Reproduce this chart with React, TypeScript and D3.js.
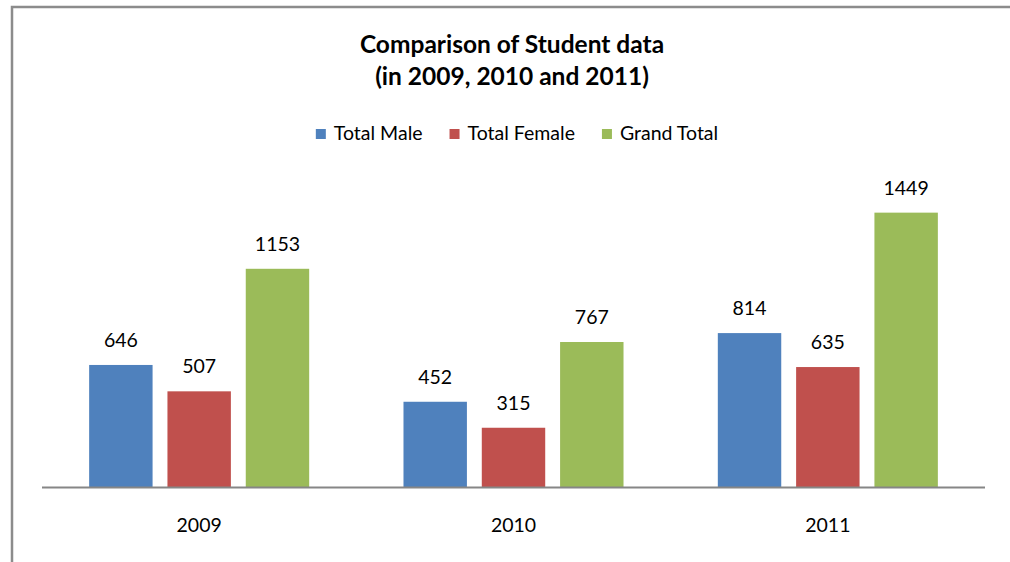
import { useEffect, useRef } from 'react';
import * as d3 from 'd3';

const years = ['2009', '2010', '2011'];
const seriesNames = ['Total Male', 'Total Female', 'Grand Total'];
const totalMale = [646, 452, 814];
const totalFemale = [507, 315, 635];
const grandTotal = [1153, 767, 1449];

const colors = ['#4F81BD', '#C0504D', '#9BBB59'];
const FONT = 'Lato, Calibri, "Open Sans", sans-serif';

const W = 1010;
const H = 562;
const margin = { left: 42, right: 25, top: 184, bottom: 74.5 };

const App = () => {
  const ref = useRef<SVGSVGElement>(null);

  useEffect(() => {
    const svg = d3.select(ref.current);
    svg.selectAll('*').remove();

    const values = [totalMale, totalFemale, grandTotal];
    const rows = years.map((y, i) => ({
      year: y,
      vals: values.map((v, s) => ({ name: seriesNames[s], value: v[i], s })),
    }));

    // chart border (right/bottom run off the page)
    svg.append('rect')
      .attr('x', 12).attr('y', 7)
      .attr('width', 1010).attr('height', 600)
      .attr('fill', 'none')
      .attr('stroke', '#8c8c8c')
      .attr('stroke-width', 2.5);

    const x0 = d3.scaleBand()
      .domain(years)
      .range([margin.left, W - margin.right])
      .paddingInner(0.3)
      .paddingOuter(0.15);

    const x1 = d3.scaleBand()
      .domain(seriesNames)
      .range([0, x0.bandwidth()])
      .paddingInner(0.19);

    const y = d3.scaleLinear()
      .domain([0, 1600])
      .range([H - margin.bottom, margin.top]);

    // title
    const title = svg.append('text')
      .attr('x', 512)
      .attr('text-anchor', 'middle')
      .attr('font-family', FONT)
      .attr('font-weight', 'bold')
      .attr('font-size', 24.5)
      .attr('fill', '#000');
    title.append('tspan').attr('x', 512).attr('y', 53).text('Comparison of Student data');
    title.append('tspan').attr('x', 512).attr('y', 85).text('(in 2009, 2010 and 2011)');

    // legend
    const legend = svg.append('g');
    let lx = 0;
    seriesNames.forEach((name, i) => {
      const g = legend.append('g').attr('transform', `translate(${lx},0)`);
      g.append('rect')
        .attr('x', 0).attr('y', 129)
        .attr('width', 10).attr('height', 10)
        .attr('fill', colors[i]);
      const t = g.append('text')
        .attr('x', 18).attr('y', 139.5)
        .attr('font-family', FONT)
        .attr('font-size', 19.5)
        .attr('fill', '#000')
        .text(name);
      const tw = (t.node() as SVGTextElement).getComputedTextLength();
      lx += 18 + tw + 27;
    });
    const legendW = lx - 27;
    legend.attr('transform', `translate(${517 - legendW / 2},0)`);

    // bars
    const groups = svg.append('g')
      .selectAll('g')
      .data(rows)
      .join('g')
      .attr('transform', (d) => `translate(${x0(d.year)},0)`);

    groups.selectAll('rect')
      .data((d) => d.vals)
      .join('rect')
      .attr('x', (d) => x1(d.name)!)
      .attr('y', (d) => y(d.value))
      .attr('width', x1.bandwidth())
      .attr('height', (d) => y(0) - y(d.value))
      .attr('fill', (d) => colors[d.s]);

    groups.selectAll('text')
      .data((d) => d.vals)
      .join('text')
      .attr('x', (d) => x1(d.name)! + x1.bandwidth() / 2)
      .attr('y', (d) => y(d.value) - 18)
      .attr('text-anchor', 'middle')
      .attr('font-family', FONT)
      .attr('font-size', 19.5)
      .attr('fill', '#000')
      .text((d) => d.value);

    // axis line
    svg.append('line')
      .attr('x1', margin.left).attr('x2', W - margin.right)
      .attr('y1', y(0)).attr('y2', y(0))
      .attr('stroke', '#868686')
      .attr('stroke-width', 2);

    // category labels
    svg.append('g')
      .selectAll('text')
      .data(years)
      .join('text')
      .attr('x', (d) => x0(d)! + x0.bandwidth() / 2)
      .attr('y', 532)
      .attr('text-anchor', 'middle')
      .attr('font-family', FONT)
      .attr('font-size', 19.5)
      .attr('fill', '#000')
      .text((d) => d);
  }, []);

  return (
    <svg
      ref={ref}
      width={W}
      height={H}
      style={{ position: 'absolute', left: 0, top: 0, background: '#fff' }}
    />
  );
};

export default App;
